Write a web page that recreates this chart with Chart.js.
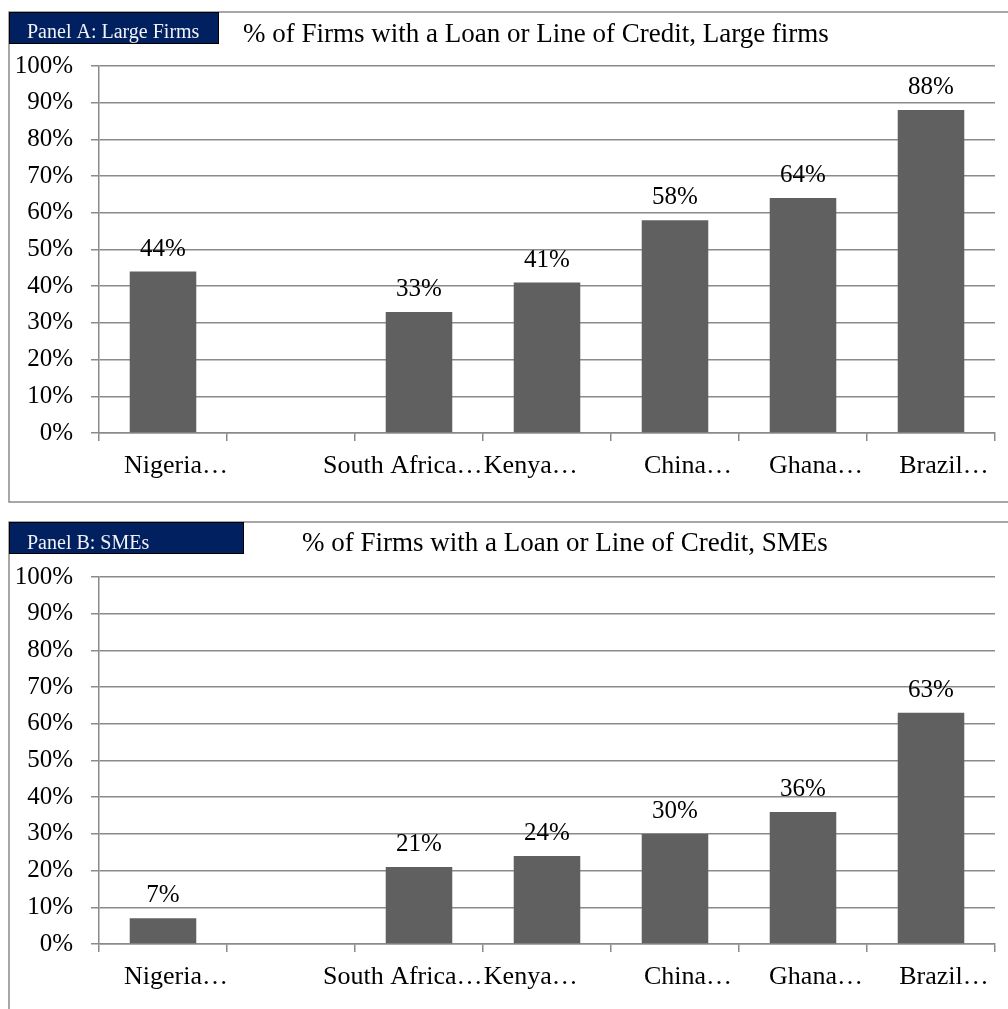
<!DOCTYPE html>
<html>
<head>
<meta charset="utf-8">
<script src="https://cdn.jsdelivr.net/npm/chart.js@4"></script>
<style>
  html, body { margin: 0; padding: 0; background: #ffffff; }
  body { width: 1008px; height: 1009px; overflow: hidden; position: relative; }
  canvas { position: absolute; left: 0; }
  #panelA { top: 0; }
  #panelB { top: 512px; }
</style>
</head>
<body>
<canvas id="panelA" width="1008" height="512"></canvas>
<canvas id="panelB" width="1008" height="497"></canvas>
<script>
// Countries (labels as truncated in the source workbook)
const categories = ['Nigeria…', '', 'South Africa…', 'Kenya…', 'China…', 'Ghana…', 'Brazil…'];
// % of firms with a loan or line of credit
const largeFirms = [44, null, 33, 41, 58, 64, 88];
const smes = [7, null, 21, 24, 30, 36, 63];
// Value axis
const yMin = 0;
const yMax = 100;
const yStep = 10;
// Panel headings
const panelTags = ['Panel A: Large Firms', 'Panel B: SMEs'];
const panelTitles = [
  '% of Firms with a Loan or Line of Credit, Large firms',
  '% of Firms with a Loan or Line of Credit, SMEs'
];

const SERIF = '"Liberation Serif", "Times New Roman", "DejaVu Serif", serif';
const GRID = '#8a8a8a';
const BAR = '#606060';
const NAVY = '#002060';

// Category label nudges, in spaces (positive: pad left, negative: pad right),
// so the long neighbouring labels sit side by side like the spreadsheet layout
const labelPad = [4, 0, -5, -5, 4, 4, 4];
function padLabel(text, i) {
  const n = labelPad[i] || 0;
  if (!text) return text;
  return n > 0 ? ' '.repeat(n) + text : text + ' '.repeat(-n);
}

// Frame, navy tag box and heading for each panel
function panelDecor(cfg) {
  return {
    id: 'panelDecor',
    beforeDraw(chart) {
      const ctx = chart.ctx;
      ctx.save();
      ctx.fillStyle = '#ffffff';
      ctx.fillRect(0, 0, chart.width, chart.height);
      ctx.strokeStyle = GRID;
      ctx.lineWidth = 1.5;
      ctx.strokeRect(cfg.frame.x, cfg.frame.y, cfg.frame.w, cfg.frame.h);
      ctx.fillStyle = NAVY;
      ctx.fillRect(cfg.tag.x, cfg.tag.y, cfg.tag.w, cfg.tag.h);
      ctx.strokeStyle = '#000000';
      ctx.lineWidth = 1;
      ctx.strokeRect(cfg.tag.x + 0.5, cfg.tag.y + 0.5, cfg.tag.w - 1, cfg.tag.h - 1);
      ctx.fillStyle = '#f2f2f7';
      ctx.font = '20px ' + SERIF;
      ctx.textAlign = 'left';
      ctx.textBaseline = 'alphabetic';
      ctx.fillText(cfg.tagText, cfg.tag.x + 18, cfg.tagBaseline);
      ctx.fillStyle = '#000000';
      ctx.font = '27px ' + SERIF;
      ctx.fillText(cfg.title, cfg.titleX, cfg.titleBaseline);
      ctx.restore();
    }
  };
}

// Value labels above each bar
const valueLabels = {
  id: 'valueLabels',
  afterDatasetsDraw(chart) {
    const ctx = chart.ctx;
    const ds = chart.data.datasets[0];
    const meta = chart.getDatasetMeta(0);
    ctx.save();
    ctx.fillStyle = '#000000';
    ctx.font = '25px ' + SERIF;
    ctx.textAlign = 'center';
    ctx.textBaseline = 'alphabetic';
    meta.data.forEach((bar, i) => {
      const v = ds.data[i];
      if (v === null || v === undefined) return;
      ctx.fillText(v + '%', bar.x, bar.y - 16);
    });
    ctx.restore();
  }
};

function makeChart(canvasId, values, opts) {
  return new Chart(document.getElementById(canvasId), {
    type: 'bar',
    data: {
      labels: categories,
      datasets: [{
        data: values,
        backgroundColor: BAR,
        borderWidth: 0,
        categoryPercentage: 1.0,
        barPercentage: 0.52
      }]
    },
    options: {
      responsive: false,
      animation: false,
      devicePixelRatio: 1,
      layout: { padding: { left: 0, right: 13, top: opts.top, bottom: 0 } },
      plugins: {
        legend: { display: false },
        title: { display: false },
        tooltip: { enabled: false }
      },
      scales: {
        x: {
          offset: true,
          grid: {
            offset: true,
            drawOnChartArea: false,
            drawTicks: true,
            tickLength: 8,
            color: GRID,
            lineWidth: 1.5
          },
          border: { display: true, color: GRID, width: 1.5 },
          ticks: {
            autoSkip: false,
            maxRotation: 0,
            minRotation: 0,
            padding: 10,
            color: '#000000',
            font: { family: SERIF, size: 26 },
            callback: function (value, index) {
              return padLabel(this.getLabelForValue(value), index);
            }
          },
          afterFit(scale) { scale.height = opts.xHeight; }
        },
        y: {
          min: yMin,
          max: yMax,
          ticks: {
            stepSize: yStep,
            padding: 18,
            color: '#000000',
            font: { family: SERIF, size: 25 },
            callback: (v) => v + '%'
          },
          grid: {
            drawTicks: true,
            tickLength: 8,
            color: GRID,
            lineWidth: 1.5
          },
          border: { display: true, color: GRID, width: 1.5 },
          afterFit(scale) { scale.width = 99; }
        }
      }
    },
    plugins: [panelDecor(opts.decor), valueLabels]
  });
}

makeChart('panelA', largeFirms, {
  top: 66,
  xHeight: 79,
  decor: {
    frame: { x: 9, y: 12, w: 1100, h: 490 },
    tag: { x: 9, y: 12, w: 210, h: 32 },
    tagText: panelTags[0],
    tagBaseline: 38,
    title: panelTitles[0],
    titleX: 243,
    titleBaseline: 42
  }
});

makeChart('panelB', smes, {
  top: 65,
  xHeight: 65,
  decor: {
    frame: { x: 9, y: 10, w: 1100, h: 600 },
    tag: { x: 9, y: 10, w: 235, h: 32 },
    tagText: panelTags[1],
    tagBaseline: 37,
    title: panelTitles[1],
    titleX: 302,
    titleBaseline: 39
  }
});
</script>
</body>
</html>
